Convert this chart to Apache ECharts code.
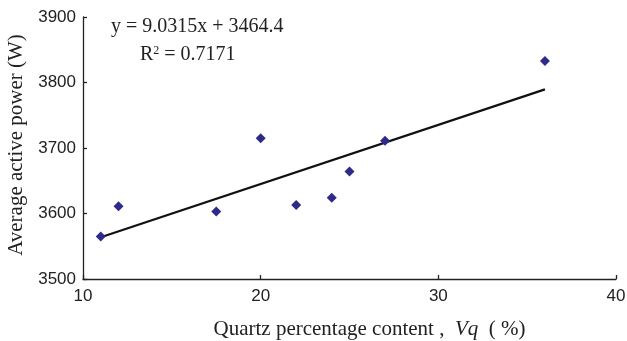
<!DOCTYPE html>
<html><head><meta charset="utf-8">
<script src="https://cdn.jsdelivr.net/npm/echarts@6/dist/echarts.min.js"></script>
<style>html,body{margin:0;padding:0;background:#fff}#c{width:627px;height:341px}</style>
</head><body><div id="c"></div>
<script>
const quartzX = [11, 12, 17.5, 20, 22, 24, 25, 27, 36];
const powerY = [3565, 3611, 3603, 3715, 3613, 3624, 3664, 3711, 3833];
const trendX = [11, 36];
const trendY = [3563.7, 3789.5];
const xTicks = {min: 10, max: 40, interval: 10};
const yTicks = {min: 3500, max: 3900, interval: 100};
const eqLine1 = 'y = 9.0315x + 3464.4';
const eqLine2 = '{n|R}{s|2}{n| = 0.7171}';

const chart = echarts.init(document.getElementById('c'));
const axisCommon = {
  axisLine: {show: true, lineStyle: {color: '#222', width: 1.3}},
  axisTick: {show: true, inside: true, length: 4, lineStyle: {color: '#222', width: 1.3}},
  splitLine: {show: false},
  axisLabel: {color: '#222', fontFamily: 'Liberation Sans', fontSize: 17, formatter: v => String(v)}
};
chart.setOption({
  animation: false,
  grid: {left: 83, right: 11, top: 17, bottom: 62, containLabel: false, outerBoundsMode: 'none'},
  xAxis: Object.assign({type: 'value', min: xTicks.min, max: xTicks.max, interval: xTicks.interval,
    name: '{n|Quartz percentage content ,  }{i|Vq}{n|  ( %)}', nameLocation: 'middle', nameGap: 40,
    nameTextStyle: {padding: [0, 0, 0, 40], rich: {n: {fontFamily: 'Liberation Serif', fontSize: 21, color: '#222'},
      i: {fontFamily: 'Liberation Serif', fontStyle: 'italic', fontSize: 21, color: '#222'}}}
  }, axisCommon, {axisLabel: Object.assign({}, axisCommon.axisLabel, {margin: 9})}),
  yAxis: Object.assign({type: 'value', min: yTicks.min, max: yTicks.max, interval: yTicks.interval,
    name: 'Average active power (W)', nameLocation: 'middle', nameGap: 56,
    nameTextStyle: {fontFamily: 'Liberation Serif', fontSize: 21, color: '#222', padding: [0, 0, 0, 6]}
  }, axisCommon, {axisLabel: Object.assign({}, axisCommon.axisLabel, {margin: 7})}),
  graphic: [
    {type: 'text', left: 111, top: 17, style: {text: eqLine1, fontFamily: 'Liberation Serif', fontSize: 20, fill: '#222'}},
    {type: 'text', left: 140, top: 45, style: {text: eqLine2, fill: '#222',
      rich: {n: {fontFamily: 'Liberation Serif', fontSize: 20}, s: {fontFamily: 'Liberation Serif', fontSize: 12, verticalAlign: 'top', padding: [0,0,8,0]}}}}
  ],
  series: [
    {type: 'line', data: trendX.map((x, i) => [x, trendY[i]]), symbol: 'none',
      lineStyle: {color: '#111', width: 2.2}, z: 2},
    {type: 'scatter', data: quartzX.map((x, i) => [x, powerY[i]]), symbol: 'diamond', symbolSize: 10,
      itemStyle: {color: '#2f2a8a', opacity: 1}, z: 3}
  ]
});
</script></body></html>
